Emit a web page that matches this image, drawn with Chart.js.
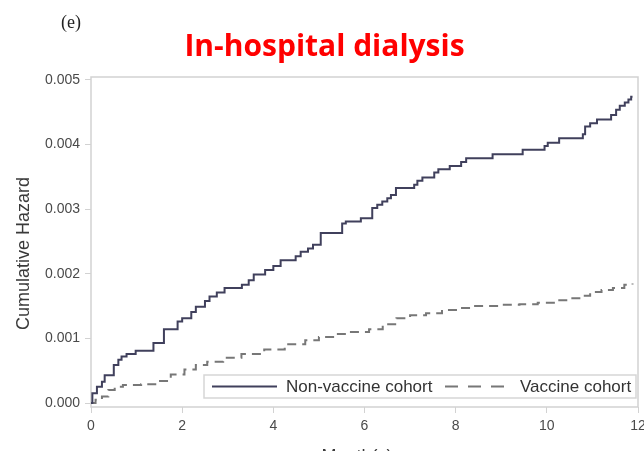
<!DOCTYPE html>
<html>
<head>
<meta charset="utf-8">
<script src="https://cdn.jsdelivr.net/npm/chart.js@4"></script>
<style>
  html, body { margin: 0; padding: 0; background: #ffffff; }
  canvas { display: block; }
</style>
</head>
<body>
<canvas id="chart" width="644" height="451"></canvas>
<script>
// Texts
const panelTag = '(e)';
const chartTitle = 'In-hospital dialysis';
const xAxisTitle = 'Month(s)';
const yAxisTitle = 'Cumulative Hazard';
const seriesNames = ['Non-vaccine cohort', 'Vaccine cohort'];

// Axis ticks
const xTicks = [0, 2, 4, 6, 8, 10, 12];
const yTicks = [0, 0.001, 0.002, 0.003, 0.004, 0.005];

// Non-vaccine cohort: event times (months) and cumulative hazard after each step
const nonVaccineMonths = [0, 0.03, 0.13, 0.24, 0.30, 0.50, 0.60, 0.67, 0.78, 0.98,
  1.37, 1.60, 1.90, 2.00, 2.20, 2.30, 2.50, 2.60, 2.76, 2.93,
  3.31, 3.46, 3.57, 3.82, 4.00, 4.16, 4.49, 4.60, 4.76, 4.87,
  5.04, 5.51, 5.59, 5.92, 6.17, 6.28, 6.39, 6.50, 6.58, 6.69,
  7.09, 7.16, 7.27, 7.53, 7.62, 7.87, 8.12, 8.23, 8.81, 9.47,
  9.95, 10.02, 10.27, 10.79, 10.84, 10.95, 11.10, 11.41, 11.52, 11.60,
  11.71, 11.79, 11.85, 11.88];
const nonVaccineHazard = [0, 0.00015, 0.00025, 0.00033, 0.00043, 0.00059, 0.00067, 0.00072, 0.00076, 0.00081,
  0.00093, 0.00114, 0.00126, 0.00131, 0.00141, 0.00149, 0.00158, 0.00165, 0.00171, 0.00178,
  0.00183, 0.00190, 0.00199, 0.00206, 0.00212, 0.00221, 0.00227, 0.00234, 0.00239, 0.00245,
  0.00263, 0.00278, 0.00281, 0.00286, 0.00302, 0.00307, 0.00312, 0.00317, 0.00322, 0.00333,
  0.00338, 0.00344, 0.00349, 0.00357, 0.00362, 0.00367, 0.00373, 0.00379, 0.00385, 0.00392,
  0.00398, 0.00403, 0.00410, 0.00416, 0.00428, 0.00433, 0.00439, 0.00446, 0.00454, 0.00460,
  0.00465, 0.00470, 0.00474, 0.00474];

// Vaccine cohort
const vaccineMonths = [0, 0.10, 0.24, 0.38, 0.52, 0.70, 1.10, 1.45, 1.75, 2.05,
  2.30, 2.55, 2.90, 3.30, 3.80, 4.25, 4.70, 5.00, 5.35, 5.65,
  6.10, 6.40, 6.70, 7.00, 7.35, 7.70, 8.05, 8.35, 9.00, 9.40,
  9.80, 10.20, 10.50, 10.80, 10.95, 11.20, 11.45, 11.70, 11.88];
const vaccineHazard = [0, 0.00005, 0.00010, 0.00020, 0.00025, 0.00028, 0.00029, 0.00034, 0.00044, 0.00052,
  0.00059, 0.00064, 0.00070, 0.00076, 0.00083, 0.00091, 0.00097, 0.00102, 0.00107, 0.00110,
  0.00114, 0.00122, 0.00131, 0.00136, 0.00139, 0.00144, 0.00147, 0.00150, 0.00152, 0.00153,
  0.00155, 0.00159, 0.00162, 0.00166, 0.00172, 0.00175, 0.00178, 0.00183, 0.00185];

const toPoints = (xs, ys) => xs.map((x, i) => ({ x: x, y: ys[i] }));

const FRAME = '#d2d2d2';
const TEXT = '#4a4a4a';

// Frame around the plot area, panel tag, axis titles and the inset legend
const decorations = {
  id: 'decorations',
  beforeDatasetsDraw(chart) {
    const { ctx, chartArea: a } = chart;
    ctx.save();
    ctx.strokeStyle = FRAME;
    ctx.lineWidth = 1.5;
    ctx.strokeRect(a.left, a.top, a.right - a.left, a.bottom - a.top);
    ctx.restore();
  },
  afterDatasetsDraw(chart) {
    const { ctx } = chart;
    const ds = chart.data.datasets;
    ctx.save();

    // legend box
    const box = { l: 204, t: 375, r: 636, b: 398 };
    ctx.fillStyle = '#ffffff';
    ctx.fillRect(box.l, box.t, box.r - box.l, box.b - box.t);
    ctx.strokeStyle = '#d6d6d6';
    ctx.lineWidth = 1.5;
    ctx.strokeRect(box.l, box.t, box.r - box.l, box.b - box.t);
    const ly = (box.t + box.b) / 2;

    ctx.lineWidth = ds[0].borderWidth;
    ctx.strokeStyle = ds[0].borderColor;
    ctx.setLineDash([]);
    ctx.beginPath(); ctx.moveTo(212, ly); ctx.lineTo(277, ly); ctx.stroke();

    ctx.lineWidth = ds[1].borderWidth;
    ctx.strokeStyle = ds[1].borderColor;
    ctx.setLineDash([13, 10]);
    ctx.beginPath(); ctx.moveTo(445, ly); ctx.lineTo(509, ly); ctx.stroke();
    ctx.setLineDash([]);

    ctx.fillStyle = '#333333';
    ctx.font = '17px "Liberation Sans", Arial, sans-serif';
    ctx.textAlign = 'left';
    ctx.textBaseline = 'middle';
    ctx.fillText(ds[0].label, 286, ly + 1);
    ctx.fillText(ds[1].label, 520, ly + 1);

    // panel tag
    ctx.fillStyle = '#222222';
    ctx.font = '18px "Liberation Serif", "Times New Roman", serif';
    ctx.textBaseline = 'alphabetic';
    ctx.fillText(panelTag, 61, 28);

    // axis titles
    ctx.fillStyle = '#3a3a3a';
    ctx.font = '18px "Liberation Sans", Arial, sans-serif';
    ctx.textAlign = 'center';
    ctx.fillText(xAxisTitle, 357, 462);
    ctx.translate(28.5, 253.5);
    ctx.rotate(-Math.PI / 2);
    ctx.fillText(yAxisTitle, 0, 0);
    ctx.restore();
  }
};

Chart.defaults.font.family = '"Liberation Sans", Arial, sans-serif';

new Chart(document.getElementById('chart'), {
  type: 'line',
  data: {
    datasets: [
      {
        label: seriesNames[0],
        data: toPoints(nonVaccineMonths, nonVaccineHazard),
        stepped: 'before',
        borderColor: '#40405c',
        borderWidth: 2,
        pointRadius: 0,
        fill: false
      },
      {
        label: seriesNames[1],
        data: toPoints(vaccineMonths, vaccineHazard),
        stepped: 'before',
        borderColor: '#777777',
        borderWidth: 2,
        borderDash: [9, 6],
        pointRadius: 0,
        fill: false
      }
    ]
  },
  options: {
    responsive: false,
    animation: false,
    devicePixelRatio: 1,
    layout: { padding: { left: 11, right: 6, top: 0, bottom: 0 } },
    plugins: {
      legend: { display: false },
      tooltip: { enabled: false },
      title: {
        display: true,
        text: chartTitle,
        color: '#ff0000',
        font: { family: '"Open Sans", sans-serif', size: 30, weight: 'bold' },
        padding: { top: 29, bottom: 12 }
      }
    },
    scales: {
      x: {
        type: 'linear',
        min: 0,
        max: 12,
        border: { display: false },
        grid: { drawOnChartArea: false, drawTicks: true, tickLength: 6, color: FRAME, lineWidth: 1 },
        ticks: { color: TEXT, font: { size: 14 }, padding: 5, maxRotation: 0, autoSkip: false },
        afterBuildTicks(scale) { scale.ticks = xTicks.map(v => ({ value: v })); },
        afterFit(scale) { scale.height = 44; scale.paddingLeft = 0; scale.paddingRight = 0; }
      },
      y: {
        type: 'linear',
        min: -0.0000619,
        max: 0.0050464,
        border: { display: false },
        grid: { drawOnChartArea: false, drawTicks: true, tickLength: 6, color: FRAME, lineWidth: 1 },
        ticks: {
          color: TEXT, font: { size: 14 }, padding: 5, autoSkip: false,
          callback: v => v.toFixed(3)
        },
        afterBuildTicks(scale) { scale.ticks = yTicks.map(v => ({ value: v })); },
        afterFit(scale) { scale.width = 80; scale.paddingTop = 0; scale.paddingBottom = 0; }
      }
    }
  },
  plugins: [decorations]
});
</script>
</body>
</html>
